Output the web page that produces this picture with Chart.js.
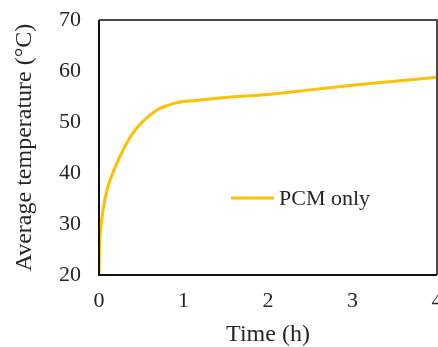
<!DOCTYPE html>
<html>
<head>
<meta charset="utf-8">
<script src="https://cdn.jsdelivr.net/npm/chart.js@4"></script>
<style>
  html, body { margin: 0; padding: 0; background: #fff; }
  #wrap { width: 438px; height: 347px; }
</style>
</head>
<body>
<div id="wrap"><canvas id="myChart" width="438" height="347"></canvas></div>
<script>
// time in hours and average temperature of the PCM only case
const timeH = [0, 0.005, 0.02, 0.05, 0.1, 0.2, 0.3, 0.4, 0.5, 0.6, 0.7, 0.8, 0.9, 1.0, 1.25, 1.5, 2, 2.5, 3, 3.5, 4];
const tempPCM = [20, 25, 29, 33, 37, 41.5, 45, 47.8, 49.8, 51.3, 52.5, 53.2, 53.7, 54, 54.4, 54.8, 55.4, 56.3, 57.2, 58.0, 58.8];
const seriesName = 'PCM only';
const xTicks = [0, 1, 2, 3, 4];
const yTicks = [20, 30, 40, 50, 60, 70];

const serif = '"Liberation Serif", "Times New Roman", serif';
const ink = '#262626';

// box around the plot + legend inside it
const frame = {
  id: 'frame',
  afterDraw(chart) {
    const { ctx, chartArea: a } = chart;
    ctx.save();
    ctx.lineWidth = 2;
    ctx.strokeStyle = '#4a4a4a';
    ctx.beginPath();
    ctx.moveTo(a.left, a.top);
    ctx.lineTo(a.right, a.top);
    ctx.lineTo(a.right, a.bottom);
    ctx.stroke();
    ctx.strokeStyle = '#111';
    ctx.beginPath();
    ctx.moveTo(a.left, a.top);
    ctx.lineTo(a.left, a.bottom);
    ctx.lineTo(a.right, a.bottom);
    ctx.stroke();

    const ds = chart.data.datasets[0];
    const lx = a.left + 132, ly = a.top + 178;
    ctx.strokeStyle = ds.borderColor;
    ctx.lineWidth = 3;
    ctx.beginPath();
    ctx.moveTo(lx, ly);
    ctx.lineTo(lx + 43, ly);
    ctx.stroke();
    ctx.fillStyle = ink;
    ctx.font = '22px ' + serif;
    ctx.textBaseline = 'middle';
    ctx.fillText(ds.label, lx + 48, ly + 1);
    ctx.restore();
  }
};

const ctx = document.getElementById('myChart');
new Chart(ctx, {
  type: 'line',
  data: {
    datasets: [{
      label: seriesName,
      data: timeH.map((t, i) => ({ x: t, y: tempPCM[i] })),
      borderColor: '#FFC000',
      borderWidth: 3,
      pointRadius: 0,
      cubicInterpolationMode: 'monotone',
      fill: false
    }]
  },
  options: {
    responsive: false,
    animation: false,
    layout: { padding: { top: 20, right: 1, left: 0, bottom: 0 } },
    plugins: { legend: { display: false }, tooltip: { enabled: false } },
    scales: {
      x: {
        type: 'linear',
        min: 0, max: 4,
        afterBuildTicks(s) { s.ticks = xTicks.map(v => ({ value: v })); },
        afterFit(s) { s.height = 72; s.paddingLeft = 0; s.paddingRight = 0; },
        grid: { display: false, drawTicks: false },
        border: { display: false },
        ticks: { padding: 13, color: ink, font: { family: serif, size: 22 }, maxRotation: 0 },
        title: { display: true, text: 'Time (h)', color: ink, font: { family: serif, size: 24 }, padding: { top: 0, bottom: -2 } }
      },
      y: {
        min: 20, max: 70,
        afterBuildTicks(s) { s.ticks = yTicks.map(v => ({ value: v })); },
        afterFit(s) { s.width = 99; s.paddingTop = 0; s.paddingBottom = 0; },
        grid: { display: false, drawTicks: false },
        border: { display: false },
        ticks: { padding: 18, color: ink, font: { family: serif, size: 22 } },
        title: { display: true, text: 'Average temperature (°C)', color: ink, font: { family: serif, size: 24 }, padding: { top: 10, bottom: 0 } }
      }
    }
  },
  plugins: [frame]
});
</script>
</body>
</html>
